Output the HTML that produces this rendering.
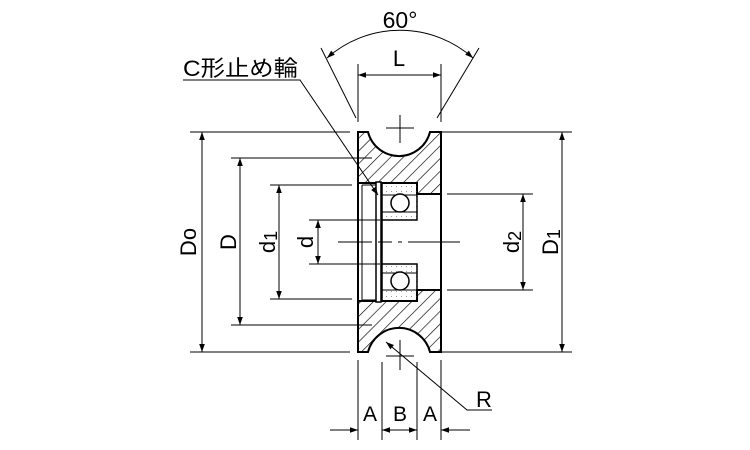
<!DOCTYPE html>
<html><head><meta charset="utf-8"><style>
html,body{margin:0;padding:0;background:#fff;}
svg{display:block;}
text{font-family:"Liberation Sans","Noto Sans CJK JP",sans-serif;fill:#000;}
</style></head><body>
<svg width="750" height="450" viewBox="0 0 750 450" xmlns="http://www.w3.org/2000/svg">
<defs>
<pattern id="h" patternUnits="userSpaceOnUse" width="9" height="9" patternTransform="rotate(45)">
<line x1="0" y1="0" x2="0" y2="9" stroke="#000" stroke-width="1.3"/>
</pattern>
<pattern id="dots" patternUnits="userSpaceOnUse" width="5" height="5">
<rect x="1" y="1" width="1" height="1" fill="#999"/>
</pattern>
<marker id="a" viewBox="0 0 10 10" refX="10" refY="5" markerWidth="12" markerHeight="8" markerUnits="userSpaceOnUse" orient="auto-start-reverse">
<path d="M0,1.5 L10,5 L0,8.5 Z" fill="#000"/>
</marker>
</defs>
<g stroke="#000" fill="none" stroke-width="1">
<path d="M358,132 H368 A32,32 0 0 0 430,132 H441 V194 H417 V183 H358 Z" fill="url(#h)" stroke-width="2"/>
<path d="M358,352 H368 A32,32 0 0 1 430,352 H441 V290 H417 V301 H358 Z" fill="url(#h)" stroke-width="2"/>
<line x1="358" y1="183" x2="358" y2="301" stroke-width="2"/>
<line x1="362" y1="185" x2="362" y2="300"/>
<line x1="362" y1="185" x2="376" y2="185"/>
<line x1="362" y1="300" x2="376" y2="300"/>
<line x1="441" y1="194" x2="441" y2="290" stroke-width="2"/>
<rect x="382" y="183" width="35" height="37" fill="url(#dots)" stroke-width="1.5"/>
<rect x="382" y="264" width="35" height="37" fill="url(#dots)" stroke-width="1.5"/>
<rect x="384" y="195" width="31" height="17" fill="#fff" stroke="none"/>
<rect x="384" y="273" width="31" height="17" fill="#fff" stroke="none"/>
<line x1="382" y1="195" x2="417" y2="195"/><line x1="382" y1="212" x2="417" y2="212"/>
<line x1="382" y1="273" x2="417" y2="273"/><line x1="382" y1="290" x2="417" y2="290"/>
<circle cx="400" cy="203" r="9" fill="#fff" stroke-width="1.5"/>
<circle cx="400" cy="281" r="9" fill="#fff" stroke-width="1.5"/>
<line x1="382" y1="220" x2="382" y2="264" stroke-width="1.5"/>
<line x1="417" y1="194" x2="441" y2="194"/><line x1="417" y1="290" x2="441" y2="290"/>
<rect x="376" y="182" width="5" height="120" fill="#fff" stroke-width="1.5"/>
<line x1="338" y1="242" x2="372" y2="242"/><line x1="378" y1="242" x2="392" y2="242"/>
<line x1="398" y1="242" x2="402" y2="242"/><line x1="408" y1="242" x2="460" y2="242"/>
<line x1="400" y1="115" x2="400" y2="143"/><line x1="386" y1="128" x2="414" y2="128"/>
<line x1="400" y1="340" x2="400" y2="370"/><line x1="386" y1="356" x2="414" y2="356"/>
<line x1="190" y1="132" x2="350" y2="132"/><line x1="190" y1="352" x2="350" y2="352"/>
<line x1="231" y1="158" x2="372" y2="158"/><line x1="231" y1="325" x2="372" y2="325"/>
<line x1="270" y1="185" x2="352" y2="185"/><line x1="270" y1="299" x2="352" y2="299"/>
<line x1="309" y1="220" x2="380" y2="220"/><line x1="309" y1="264" x2="380" y2="264"/>
<line x1="202" y1="132" x2="202" y2="352" marker-start="url(#a)" marker-end="url(#a)"/>
<line x1="240" y1="158" x2="240" y2="325" marker-start="url(#a)" marker-end="url(#a)"/>
<line x1="279" y1="185" x2="279" y2="299" marker-start="url(#a)" marker-end="url(#a)"/>
<line x1="318" y1="220" x2="318" y2="264" marker-start="url(#a)" marker-end="url(#a)"/>
<line x1="436" y1="132" x2="572" y2="132"/><line x1="436" y1="352" x2="572" y2="352"/>
<line x1="447" y1="194" x2="533" y2="194"/><line x1="447" y1="290" x2="533" y2="290"/>
<line x1="523" y1="194" x2="523" y2="290" marker-start="url(#a)" marker-end="url(#a)"/>
<line x1="562" y1="132" x2="562" y2="352" marker-start="url(#a)" marker-end="url(#a)"/>
<line x1="356" y1="118" x2="321" y2="48"/><line x1="437" y1="118" x2="479" y2="48"/>
<path d="M327,58 A110,110 0 0 1 473,58" marker-start="url(#a)" marker-end="url(#a)"/>
<line x1="358" y1="64" x2="358" y2="122"/><line x1="441" y1="64" x2="441" y2="122"/>
<line x1="358" y1="75" x2="441" y2="75" marker-start="url(#a)" marker-end="url(#a)"/>
<polyline points="183,80 300,80 378,195" marker-end="url(#a)"/>
<line x1="358" y1="360" x2="358" y2="440"/><line x1="382" y1="362" x2="382" y2="440"/>
<line x1="417" y1="362" x2="417" y2="440"/><line x1="441" y1="360" x2="441" y2="440"/>
<line x1="330" y1="430" x2="358" y2="430" marker-end="url(#a)"/>
<line x1="395" y1="430" x2="382" y2="430" marker-end="url(#a)"/>
<line x1="404" y1="430" x2="417" y2="430" marker-end="url(#a)"/>
<line x1="470" y1="430" x2="441" y2="430" marker-end="url(#a)"/>
<line x1="382" y1="430" x2="404" y2="430"/>
<polyline points="492,410 467,410 386,342" marker-end="url(#a)"/>
</g>
<text x="400" y="28" font-size="23" text-anchor="middle">60°</text>
<text x="399" y="66" font-size="22" text-anchor="middle">L</text>
<text x="183" y="76" font-size="22" textLength="115" lengthAdjust="spacingAndGlyphs">C形止め輪</text>
<text x="476" y="407" font-size="22">R</text>
<text x="370" y="421" font-size="21" text-anchor="middle">A</text>
<text x="400" y="421" font-size="21" text-anchor="middle">B</text>
<text x="430" y="421" font-size="21" text-anchor="middle">A</text>
<g font-size="22" text-anchor="middle">
<text transform="translate(196,242) rotate(-90)">Do</text>
<text transform="translate(236,242) rotate(-90)">D</text>
<text transform="translate(275,242) rotate(-90)">d<tspan font-size="18" dy="2">1</tspan></text>
<text transform="translate(313,242) rotate(-90)">d</text>
<text transform="translate(519,242) rotate(-90)">d<tspan font-size="18" dy="2">2</tspan></text>
<text transform="translate(558,242) rotate(-90)">D<tspan font-size="18" dy="2">1</tspan></text>
</g>
</svg>
</body></html>
